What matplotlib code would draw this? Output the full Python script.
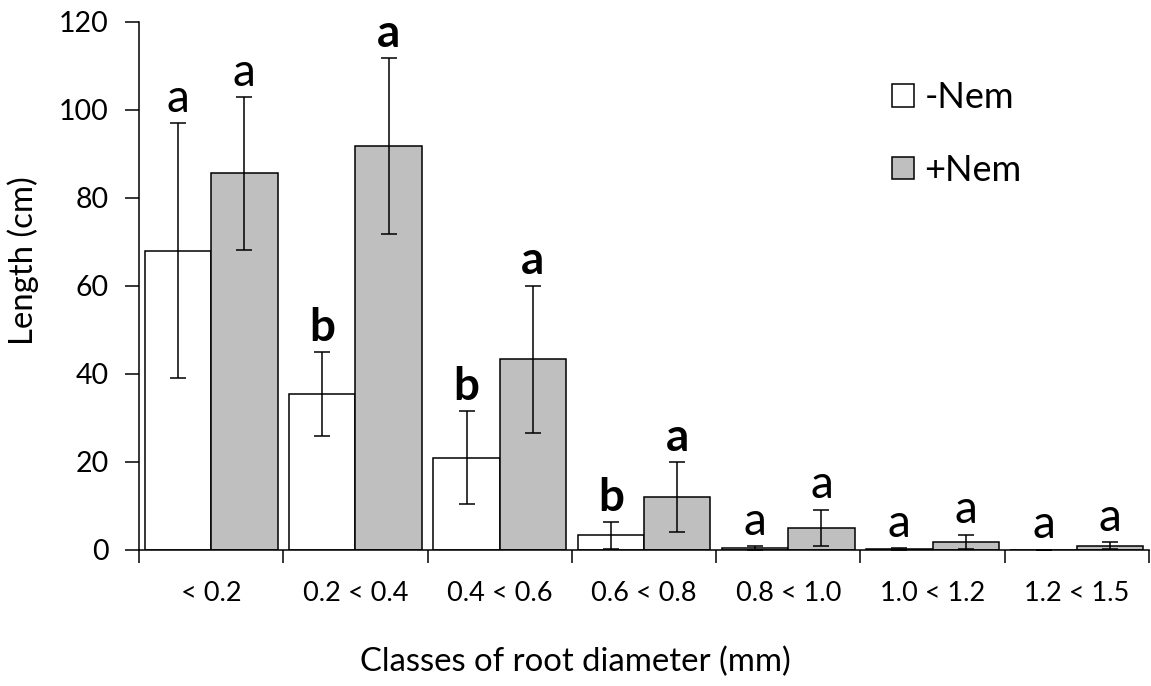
import numpy as np
import matplotlib.pyplot as plt

plt.rcParams['font.family'] = ['Lato', 'DejaVu Sans']

classes = ['< 0.2', '0.2 < 0.4', '0.4 < 0.6', '0.6 < 0.8', '0.8 < 1.0', '1.0 < 1.2', '1.2 < 1.5']
minus_nem = [68, 35.5, 21, 3.3, 0.4, 0.2, 0.05]
minus_err = [29, 9.5, 10.5, 3.1, 0.4, 0.2, 0.05]
plus_nem = [85.6, 91.8, 43.4, 12, 5, 1.9, 1.0]
plus_err = [17.4, 20, 16.7, 8, 4.2, 1.6, 0.8]
minus_letters = ['a', 'b', 'b', 'b', 'a', 'a', 'a']
plus_letters = ['a', 'a', 'a', 'a', 'a', 'a', 'a']
minus_bold = [False, True, True, True, False, False, False]
plus_bold = [False, True, True, True, False, False, False]

fig = plt.figure(figsize=(11.51, 6.86), dpi=100)
ax = fig.add_axes([139/1151, 1-550/686, 1010/1151, 528/686])

x = np.arange(len(classes))
w = 0.46
ekw = dict(elinewidth=1.1, capthick=1.1, capsize=6, ecolor='black')
ax.bar(x - w/2, minus_nem, w, yerr=minus_err, color='white', edgecolor='black',
       linewidth=1.1, error_kw=ekw, label='-Nem', zorder=2)
ax.bar(x + w/2, plus_nem, w, yerr=plus_err, color='#bfbfbf', edgecolor='black',
       linewidth=1.1, error_kw=ekw, label='+Nem', zorder=2)

for i in range(len(classes)):
    ax.annotate(minus_letters[i], (x[i] - w/2, minus_nem[i] + minus_err[i]),
                xytext=(0, 8), textcoords='offset points', ha='center', va='baseline',
                fontsize=33, fontweight='bold' if minus_bold[i] else 'normal')
    ax.annotate(plus_letters[i], (x[i] + w/2, plus_nem[i] + plus_err[i]),
                xytext=(0, 8), textcoords='offset points', ha='center', va='baseline',
                fontsize=33, fontweight='bold' if plus_bold[i] else 'normal')

ax.set_xlim(-0.5, len(classes) - 0.5)
ax.set_ylim(0, 120)
ax.set_yticks(np.arange(0, 121, 20))
ax.set_xticks(np.arange(len(classes) + 1) - 0.5)
ax.set_xticklabels([])
ax.set_xticks(x, minor=True)
ax.set_xticklabels(classes, minor=True)
ax.tick_params(axis='x', which='major', direction='out', length=9, width=1.1)
ax.tick_params(axis='x', which='minor', length=0, pad=22, labelsize=19.5)
ax.tick_params(axis='y', direction='out', length=10, width=1.1, pad=12, labelsize=20.5)

for s in ['top', 'right']:
    ax.spines[s].set_visible(False)
for s in ['left', 'bottom']:
    ax.spines[s].set_linewidth(1.1)

fig.text(0.5, 1-662/686, 'Classes of root diameter (mm)', ha='center', va='center', fontsize=23.7)
fig.text(23/1151, 1-261/686, 'Length (cm)', ha='center', va='center', rotation=90, fontsize=23.7)

ax.legend(loc='upper left', bbox_to_anchor=(892/1151, 1-81/686), bbox_transform=fig.transFigure,
          frameon=False, fontsize=26, handlelength=0.6, handleheight=0.6,
          handletextpad=0.3, labelspacing=1.1, borderpad=0, borderaxespad=0)

fig.savefig('out.png', dpi=100)
